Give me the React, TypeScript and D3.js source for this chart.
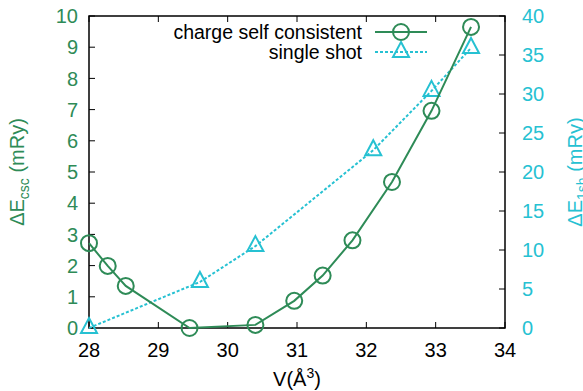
import React from "react";
import * as d3 from "d3";

const cscVolume = [28.0, 28.27, 28.53, 29.45, 30.4, 30.96, 31.37, 31.8, 32.37, 32.94, 33.51];
const cscEnergy = [2.72, 1.99, 1.35, 0.0, 0.1, 0.87, 1.68, 2.81, 4.68, 6.96, 9.65];
const shotVolume = [28.0, 29.6, 30.4, 32.1, 32.94, 33.51];
const shotEnergy = [0.0, 5.9, 10.5, 22.8, 30.4, 35.9];
const xTicks = [28, 29, 30, 31, 32, 33, 34];
const yTicks = [0, 1, 2, 3, 4, 5, 6, 7, 8, 9, 10];
const y2Ticks = [0, 5, 10, 15, 20, 25, 30, 35, 40];
const legendLabels = ["charge self consistent", "single shot"];

const W = 583;
const H = 391;
const M = { left: 89, right: 505, top: 16, bottom: 328 };
const GREEN = "#2e8b57";
const CYAN = "#26c1d2";
const FONT = "'Liberation Sans', Arial, sans-serif";

export default function App() {
  const x = d3.scaleLinear().domain([28, 34]).range([M.left, M.right]);
  const y = d3.scaleLinear().domain([0, 10]).range([M.bottom, M.top]);
  const y2 = d3.scaleLinear().domain([0, 40]).range([M.bottom, M.top]);

  const cscPts = cscVolume.map((v, i) => [x(v), y(cscEnergy[i])] as [number, number]);
  const shotPts = shotVolume.map((v, i) => [x(v), y2(shotEnergy[i])] as [number, number]);
  const line = d3.line();

  const tri = (cx: number, cy: number) =>
    `M${cx},${cy - 10}L${cx + 8},${cy + 5}L${cx - 8},${cy + 5}Z`;

  const tl = 6;
  return (
    <svg width={W} height={H} style={{ position: "absolute", left: 0, top: 0 }} fontFamily={FONT}>
      <rect x={0} y={0} width={W} height={H} fill="#fff" />
      {/* ticks */}
      {xTicks.map((t) => (
        <g key={"x" + t}>
          <line x1={x(t)} x2={x(t)} y1={M.bottom} y2={M.bottom - tl} stroke="#000" strokeWidth={1} />
          <line x1={x(t)} x2={x(t)} y1={M.top} y2={M.top + tl} stroke="#000" strokeWidth={1} />
          <text x={x(t)} y={357} textAnchor="middle" fontSize={20} fill="#000">
            {t}
          </text>
        </g>
      ))}
      {yTicks.map((t) => (
        <g key={"y" + t}>
          <line x1={M.left} x2={M.left + tl} y1={y(t)} y2={y(t)} stroke="#000" strokeWidth={1} />
          <text x={78} y={y(t)} dy="0.36em" textAnchor="end" fontSize={20} fill={GREEN}>
            {t}
          </text>
        </g>
      ))}
      {y2Ticks.map((t) => (
        <g key={"y2" + t}>
          <line x1={M.right} x2={M.right - tl} y1={y2(t)} y2={y2(t)} stroke="#000" strokeWidth={1} />
          <text x={522} y={y2(t)} dy="0.36em" textAnchor="start" fontSize={20} fill={CYAN}>
            {t}
          </text>
        </g>
      ))}
      {/* frame */}
      <rect
        x={M.left}
        y={M.top}
        width={M.right - M.left}
        height={M.bottom - M.top}
        fill="none"
        stroke="#000"
        strokeWidth={1.5}
      />
      {/* series */}
      <path d={line(shotPts) || ""} fill="none" stroke={CYAN} strokeWidth={2} strokeDasharray="3,2" />
      {shotPts.map(([px, py], i) => (
        <path key={"t" + i} d={tri(px, py)} fill="none" stroke={CYAN} strokeWidth={2} />
      ))}
      <path d={line(cscPts) || ""} fill="none" stroke={GREEN} strokeWidth={2} />
      {cscPts.map(([px, py], i) => (
        <circle key={"c" + i} cx={px} cy={py} r={8} fill="none" stroke={GREEN} strokeWidth={2} />
      ))}
      {/* legend */}
      <text x={362} y={32} dy="0.36em" textAnchor="end" fontSize={19.5} fill="#000">
        {legendLabels[0]}
      </text>
      <line x1={375} x2={427} y1={32} y2={32} stroke={GREEN} strokeWidth={2} />
      <circle cx={401} cy={32} r={8} fill="none" stroke={GREEN} strokeWidth={2} />
      <text x={362} y={52} dy="0.36em" textAnchor="end" fontSize={19.5} fill="#000">
        {legendLabels[1]}
      </text>
      <line x1={375} x2={427} y1={52} y2={52} stroke={CYAN} strokeWidth={2} strokeDasharray="3,2" />
      <path d={tri(401, 52)} fill="none" stroke={CYAN} strokeWidth={2} />
      {/* axis labels */}
      <text x={297} y={386} textAnchor="middle" fontSize={20} fill="#000">
        V(Å
        <tspan fontSize={14} dy={-8}>3</tspan>
        <tspan dy={8}>)</tspan>
      </text>
      <text transform="translate(24,172) rotate(-90)" textAnchor="middle" fontSize={20} fill={GREEN}>
        ΔE
        <tspan fontSize={14} dy={5}>csc</tspan>
        <tspan dy={-5}> (mRy)</tspan>
      </text>
      <text transform="translate(582,172) rotate(-90)" textAnchor="middle" fontSize={20} fill={CYAN}>
        ΔE
        <tspan fontSize={14} dy={5}>1sh</tspan>
        <tspan dy={-5}> (mRy)</tspan>
      </text>
    </svg>
  );
}
